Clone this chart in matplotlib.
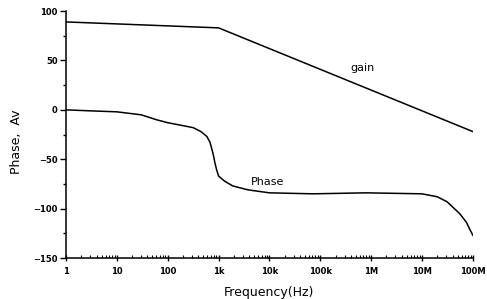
import matplotlib.pyplot as plt
import numpy as np

# gain curve (dB) vs frequency
gain_freq = [1, 1e3, 1e8]
gain_val = [89, 83, -22]

# phase curve (deg) vs frequency
phase_freq = [1, 3, 10, 30, 60, 100, 200, 316, 450, 590, 680, 740, 800, 850,
              920, 1000, 1300, 1900, 3800, 10000, 72000, 800000, 10000000,
              20000000, 31000000, 55000000, 75000000, 87000000, 100000000]
phase_val = [0, -1, -2, -5, -10, -13, -16, -18, -22, -27, -33, -40, -47, -54,
             -61, -67, -72, -77, -81, -84, -85, -84, -85,
             -88, -93, -105, -114, -121, -127]

xticks = [1, 10, 100, 1e3, 1e4, 1e5, 1e6, 1e7, 1e8]
xticklabels = ["1", "10", "100", "1k", "10k", "100k", "1M", "10M", "100M"]
yticks = [100, 50, 0, -50, -100, -150]

fig = plt.figure(figsize=(4.87, 2.99), dpi=100)
ax = fig.add_axes([0.1355, 0.137, 0.8355, 0.826])

ax.plot(gain_freq, gain_val, color="black", lw=1.1)
ax.plot(phase_freq, phase_val, color="black", lw=1.1)

ax.set_xscale("log")
ax.set_xlim(1, 1e8)
ax.set_ylim(-150, 100)
ax.set_xticks(xticks)
ax.set_xticklabels(xticklabels)
ax.set_yticks(yticks)
ax.set_yticks(np.arange(-125, 100, 50), minor=True)

for s in ["top", "right"]:
    ax.spines[s].set_visible(False)
ax.spines["left"].set_linewidth(1.1)
ax.spines["bottom"].set_linewidth(1.1)

ax.tick_params(axis="y", which="major", direction="out", length=4, width=1,
               labelsize=6, pad=2)
ax.tick_params(axis="y", which="minor", direction="out", length=2, width=1)
ax.tick_params(axis="x", which="major", direction="inout", length=5, width=1,
               labelsize=6, pad=4)
ax.tick_params(axis="x", which="minor", direction="in", length=2.5, width=0.8)
for lab in ax.get_xticklabels() + ax.get_yticklabels():
    lab.set_fontweight("bold")

ax.set_xlabel("Frequency(Hz)", fontsize=9)
ax.set_ylabel("Phase,  Av", fontsize=9)
ax.yaxis.set_label_coords(-0.105, 0.47)
ax.xaxis.set_label_coords(0.5, -0.115)

ax.text(6.8e5, 42, "gain", fontsize=8, ha="center", va="center")
ax.text(9.3e3, -73, "Phase", fontsize=8, ha="center", va="center")

fig.savefig("out.png", dpi=100)
